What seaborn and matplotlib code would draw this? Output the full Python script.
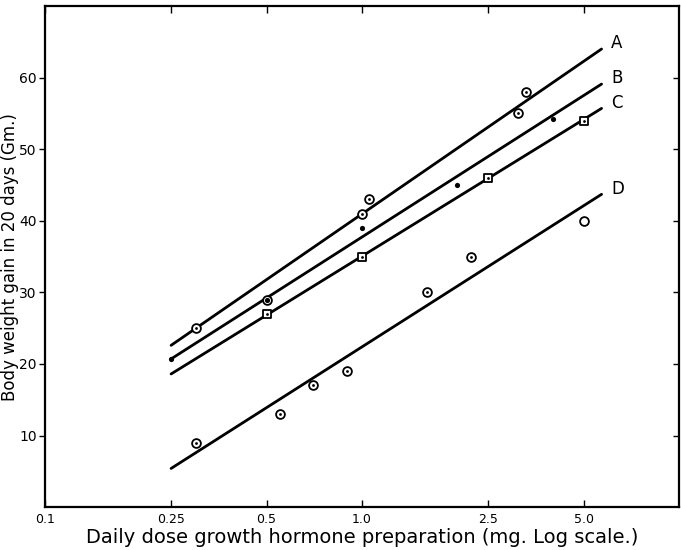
import numpy as np
import pandas as pd
import matplotlib
matplotlib.use('Agg')
import matplotlib.pyplot as plt
import seaborn as sns

# data (dose in mg, gain in Gm.)
a_dose = [0.3, 0.5, 1.0, 1.05, 3.1, 3.3]
a_gain = [25, 29, 41, 43, 55, 58]
b_dose = [0.25, 0.5, 1.0, 2.0, 4.0]
b_gain = [20.7, 29, 39, 45, 54.2]
c_dose = [0.5, 1.0, 2.5, 5.0]
c_gain = [27, 35, 46, 54]
d_dose = [0.3, 0.55, 0.7, 0.9, 1.6, 2.2]
d_gain = [9, 13, 17, 19, 30, 35]
d_open_dose = [5.0]
d_open_gain = [40]

# fitted lines (ends)
fit_dose = [0.25, 5.7]
fit_lines = {'A': [22.6, 64.0], 'B': [20.7, 59.1], 'C': [18.6, 55.7], 'D': [5.4, 43.7]}

xticks = [0.1, 0.25, 0.5, 1.0, 2.5, 5.0]
xtick_labels = ['0.1', '0.25', '0.5', '1.0', '2.5', '5.0']
yticks = [10, 20, 30, 40, 50, 60]

sns.set_style('white')
plt.rcParams['font.family'] = ['DejaVu Sans']
plt.rcParams['text.color'] = 'black'
plt.rcParams['axes.labelcolor'] = 'black'
plt.rcParams['xtick.color'] = 'black'
plt.rcParams['ytick.color'] = 'black'

fig = plt.figure(figsize=(6.81, 5.5), dpi=100)
ax = fig.add_axes([0.066, 0.078, 0.931, 0.911])

for name, ends in fit_lines.items():
    df = pd.DataFrame({'dose': fit_dose, 'gain': ends})
    sns.lineplot(data=df, x='dose', y='gain', color='black', linewidth=2, ax=ax)
    ax.text(fit_dose[-1] * 1.07, ends[-1] + 0.8, name, fontsize=12, va='center', ha='left')

ring = dict(facecolor='white', edgecolor='black', linewidth=1.3, zorder=3)
dot = dict(color='black', s=4, linewidth=0, zorder=4)

# A and D: circles with a dot
for xs, ys in [(a_dose, a_gain), (d_dose, d_gain)]:
    sns.scatterplot(x=xs, y=ys, marker='o', s=40, ax=ax, **ring)
    sns.scatterplot(x=xs, y=ys, marker='o', ax=ax, **dot)
# D open circle
sns.scatterplot(x=d_open_dose, y=d_open_gain, marker='o', s=40, ax=ax, **ring)
# B filled dots
sns.scatterplot(x=b_dose, y=b_gain, marker='o', s=14, color='black', linewidth=0, zorder=4, ax=ax)
# C squares with a dot
sns.scatterplot(x=c_dose, y=c_gain, marker='s', s=34, ax=ax, **ring)
sns.scatterplot(x=c_dose, y=c_gain, marker='o', ax=ax, **dot)

ax.set_xscale('log')
ax.set_xlim(0.1, 10)
ax.set_ylim(0, 70)
ax.set_xticks(xticks)
ax.set_xticklabels(xtick_labels, fontsize=9)
ax.xaxis.set_minor_locator(matplotlib.ticker.NullLocator())
ax.set_yticks(yticks)
ax.set_yticklabels([str(v) for v in yticks], fontsize=10)
ax.tick_params(axis='x', direction='in', length=5, width=1, top=True, bottom=True, pad=4)
ax.tick_params(axis='y', direction='out', length=4, width=1, left=True, pad=2)
ax.tick_params(axis='y', right=True)
for t in ax.yaxis.get_ticklines()[1::2]:
    t.set_marker(matplotlib.lines.TICKLEFT)

for s in ax.spines.values():
    s.set_visible(True)
    s.set_color('black')
    s.set_linewidth(1.6)

ax.set_xlabel('Daily dose growth hormone preparation (mg. Log scale.)', fontsize=14, labelpad=2)
ax.set_ylabel('Body weight gain in 20 days (Gm.)', fontsize=12, labelpad=0)

fig.savefig('out.png', dpi=100)
